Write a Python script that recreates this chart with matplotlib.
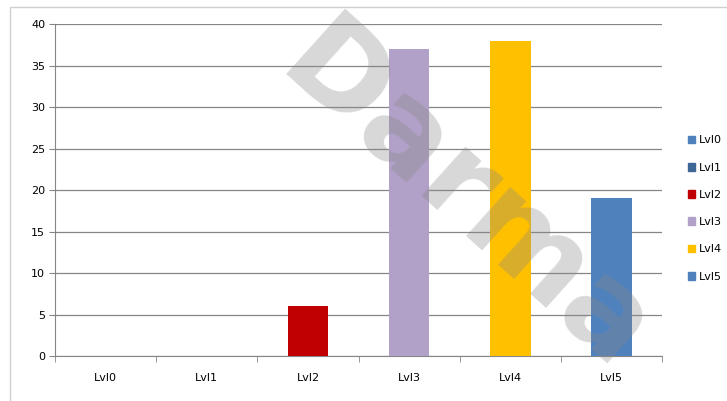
import matplotlib
matplotlib.use("Agg")
import matplotlib.pyplot as plt
import numpy as np
from matplotlib.patches import Rectangle

levels = ["Lvl0", "Lvl1", "Lvl2", "Lvl3", "Lvl4", "Lvl5"]
counts = [0, 0, 6, 37, 38, 19]
colors = ["#4F81BD", "#3E6798", "#C00000", "#B1A0C7", "#FFC000", "#4F81BD"]

fig = plt.figure(figsize=(7.27, 4.01), dpi=100)
fig.patch.set_facecolor("white")
fig.patches.append(Rectangle((0.014, -0.01), 1.0, 0.992, transform=fig.transFigure,
                             fill=False, edgecolor="#d0d0d0", linewidth=1))

ax = fig.add_axes([0.0757, 0.112, 0.835, 0.828])
x = np.arange(len(levels))
bars = ax.bar(x, counts, width=0.4, color=colors, zorder=3)

ax.set_xlim(-0.5, len(levels) - 0.5)
ax.set_ylim(0, 40)
ax.set_yticks(range(0, 41, 5))
ax.set_xticks(x)
ax.set_xticklabels(levels)
ax.set_xticks(np.arange(-0.5, len(levels)), minor=True)
ax.tick_params(axis="x", which="major", length=0, pad=12, labelsize=8)
ax.tick_params(axis="x", which="minor", length=4, color="#868686", direction="out")
ax.tick_params(axis="y", length=4, color="#868686", labelsize=8, pad=3)
ax.grid(axis="y", color="#868686", linewidth=0.9, zorder=0)
for s in ["top", "right"]:
    ax.spines[s].set_visible(False)
for s in ["left", "bottom"]:
    ax.spines[s].set_color("#868686")

handles = [Rectangle((0, 0), 1, 1, color=c) for c in colors]
fig.legend(handles, levels, loc="center left", bbox_to_anchor=(0.932, 0.48),
           frameon=False, fontsize=8, handlelength=0.7, handleheight=0.7,
           handletextpad=0.3, labelspacing=1.55)

# faint watermark
fig.text(0.64, 0.5, "Darma", fontsize=88, fontweight="bold", color="#888888",
         alpha=0.33, rotation=-42, ha="center", va="center", zorder=10)

fig.savefig("out.png", dpi=100)
